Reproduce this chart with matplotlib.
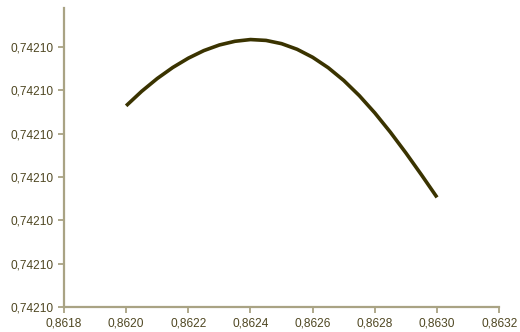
import matplotlib.pyplot as plt
from matplotlib.ticker import FuncFormatter, MultipleLocator

# data (step 0.00005)
x_vals = [0.86200, 0.86205, 0.86210, 0.86215, 0.86220, 0.86225, 0.86230,
          0.86235, 0.86240, 0.86245, 0.86250, 0.86255, 0.86260, 0.86265,
          0.86270, 0.86275, 0.86280, 0.86285, 0.86290, 0.86295, 0.86300]
y_vals = [0.7421004646, 0.7421004981, 0.7421005276, 0.7421005531, 0.7421005746,
          0.7421005921, 0.7421006051, 0.7421006136, 0.7421006176, 0.7421006156,
          0.7421006081, 0.7421005951, 0.7421005766, 0.7421005526, 0.7421005231,
          0.7421004881, 0.7421004481, 0.7421004036, 0.7421003556, 0.7421003051,
          0.7421002531]

axis_col = '#a9a384'
text_col = '#4f4722'
line_col = '#3a3300'

plt.rcParams['font.family'] = ['Liberation Sans', 'DejaVu Sans']

fig = plt.figure(figsize=(5.2, 3.32), dpi=100)
ax = fig.add_axes([0.123, 0.0753, 0.837, 0.9])

ax.plot(x_vals, y_vals, color=line_col, lw=2.6, solid_capstyle='butt',
        solid_joinstyle='round')

ax.set_xlim(0.8618, 0.8632)
ax.set_ylim(0.7421, 0.74210069)
ax.xaxis.set_major_locator(MultipleLocator(0.0002))
ax.yaxis.set_major_locator(MultipleLocator(0.0000001))
ax.xaxis.set_major_formatter(FuncFormatter(lambda v, p: f'{v:.4f}'.replace('.', ',')))
ax.yaxis.set_major_formatter(FuncFormatter(lambda v, p: f'{v:.5f}'.replace('.', ',')))

for s in ['top', 'right']:
    ax.spines[s].set_visible(False)
for s in ['left', 'bottom']:
    ax.spines[s].set_color(axis_col)
    ax.spines[s].set_linewidth(1.6)
ax.tick_params(colors=axis_col, labelcolor=text_col, labelsize=8.6,
               length=4, width=1.3, direction='out')

fig.savefig('out.png', dpi=100)
